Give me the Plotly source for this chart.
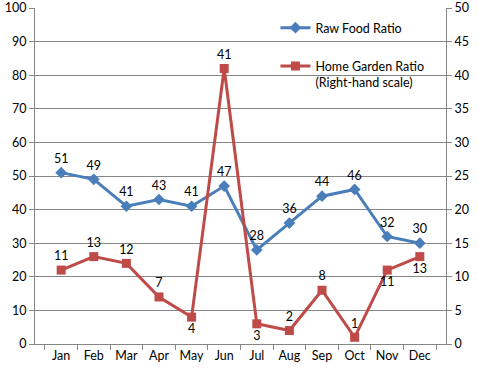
import plotly.graph_objects as go

months = ["Jan","Feb","Mar","Apr","May","Jun","Jul","Aug","Sep","Oct","Nov","Dec"]
raw_food = [51,49,41,43,41,47,28,36,44,46,32,30]
home_garden = [11,13,12,7,4,41,3,2,8,1,11,13]
garden_label_pos = ["top center","top center","top center","top center","bottom center","top center",
                    "bottom center","top center","top center","top center","bottom center","bottom center"]

BLUE = "#4A7EBB"
RED = "#BE4B48"
GRID = "#868686"
FONT = "Lato, Open Sans, sans-serif"
FS = 12.5

fig = go.Figure()
fig.add_trace(go.Scatter(
    x=months, y=raw_food, name="Raw Food Ratio", mode="lines+markers+text",
    line=dict(color=BLUE, width=3), marker=dict(symbol="diamond", size=9, color=BLUE),
    text=[str(v) for v in raw_food], textposition="top center",
    textfont=dict(size=FS, color="#000"), legendgroup="a"))
fig.add_trace(go.Scatter(
    x=months, y=home_garden, name="Home Garden Ratio<br>(Right-hand scale)", mode="lines+markers+text",
    line=dict(color=RED, width=3), marker=dict(symbol="square", size=9, color=RED),
    text=[str(v) for v in home_garden], textposition=garden_label_pos,
    textfont=dict(size=FS, color="#000"), yaxis="y2", legendgroup="b"))

fig.update_layout(
    width=478, height=371,
    margin=dict(l=35, r=32, t=8, b=27),
    paper_bgcolor="white", plot_bgcolor="white",
    font=dict(family=FONT, size=FS, color="#000"),
    showlegend=True,
    legend=dict(x=0.585, y=0.985, xanchor="left", yanchor="top", bgcolor="rgba(0,0,0,0)",
                tracegroupgap=19, itemwidth=30, valign="top", font=dict(size=FS)),
    xaxis=dict(type="category", showline=True, linecolor=GRID, linewidth=1, automargin=False,
               ticks="outside", tickson="boundaries", ticklen=5, tickcolor=GRID, tickangle=0,
               showgrid=False, tickfont=dict(size=FS)),
    yaxis=dict(range=[0,100], dtick=10, showline=True, linecolor=GRID, linewidth=1, automargin=False,
               ticks="outside", ticklen=5, tickcolor=GRID, gridcolor=GRID, gridwidth=1,
               zeroline=False, tickfont=dict(size=FS), ticklabeloverflow="allow"),
    yaxis2=dict(range=[0,50], dtick=5, overlaying="y", side="right", showline=True, automargin=False,
                linecolor=GRID, linewidth=1, ticks="outside", ticklen=5, tickcolor=GRID,
                showgrid=False, zeroline=False, tickfont=dict(size=FS), ticklabeloverflow="allow"),
)
fig.write_html("out.html", config={"displayModeBar": False},
               post_script="document.body.style.margin='0';")
